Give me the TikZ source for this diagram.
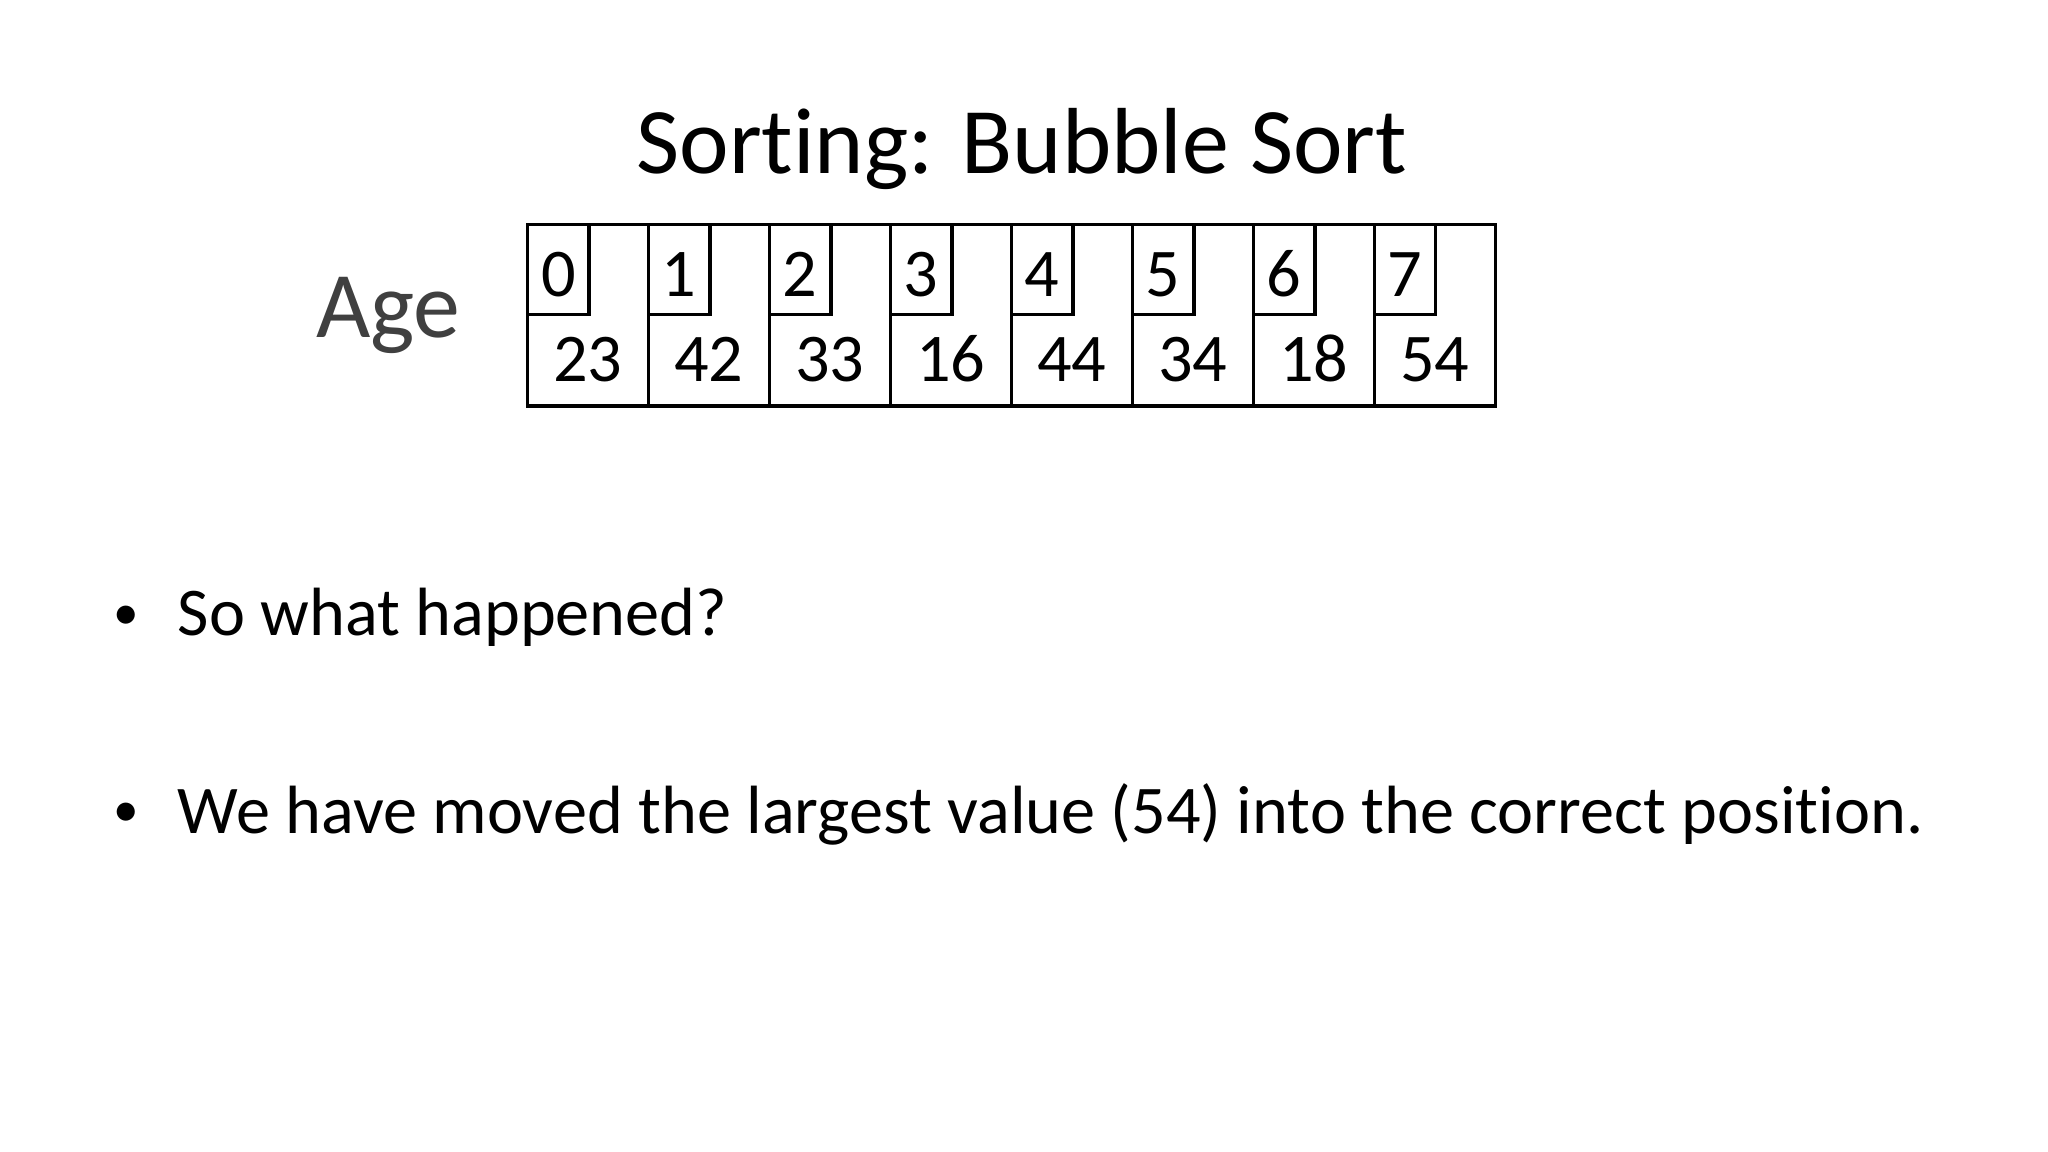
\documentclass[tikz,border=0pt]{standalone}
\usepackage{fontspec}
\setmainfont{Carlito}[Ligatures=NoCommon]
\usepackage{tikz}
\definecolor{agegray}{RGB}{64,64,64}

\begin{document}
\begin{tikzpicture}[x=1pt, y=-1pt, line width=1.6pt]
		\tikzstyle{every node}=[inner sep=0pt]
		\tikzstyle{digit}=[anchor=base, font=\fontsize{32}{38}\selectfont]
		\tikzstyle{bullettext}=[anchor=base west, font=\fontsize{32}{38}\selectfont]
		\tikzstyle{bulletdot}=[anchor=base, font=\fontsize{24}{29}\selectfont]
		\useasboundingbox (0,0) rectangle (960,540);
		\node[anchor=base, font=\fontsize{44}{53}\selectfont] (title) at (479,81.4) {Sorting: Bubble Sort};
		\node[anchor=base, font=\fontsize{44}{53}\selectfont, text=agegray] (age) at (182,158) {Age};
		% array of ages
		\draw[]  (247.3,105.3) rectangle (701,190.4) ;
		\draw[]  (304,105.3) -- (304,190.4) ;
		\draw[]  (360.7,105.3) -- (360.7,190.4) ;
		\draw[]  (417.4,105.3) -- (417.4,190.4) ;
		\draw[]  (474.1,105.3) -- (474.1,190.4) ;
		\draw[]  (530.8,105.3) -- (530.8,190.4) ;
		\draw[]  (587.5,105.3) -- (587.5,190.4) ;
		\draw[]  (644.2,105.3) -- (644.2,190.4) ;
		% index boxes
		\draw[] (247.3,105.3) rectangle (276.1,147.5);
		\draw[] (304,105.3) rectangle (332.8,147.5);
		\draw[] (360.7,105.3) rectangle (389.5,147.5);
		\draw[] (417.4,105.3) rectangle (446.2,147.5);
		\draw[] (474.1,105.3) rectangle (502.9,147.5);
		\draw[] (530.8,105.3) rectangle (559.6,147.5);
		\draw[] (587.5,105.3) rectangle (616.3,147.5);
		\draw[] (644.2,105.3) rectangle (673,147.5);
		\node[digit] (i0) at (261.7,139) {0};
		\node[digit] (i1) at (318.4,139) {1};
		\node[digit] (i2) at (375.1,139) {2};
		\node[digit] (i3) at (431.8,139) {3};
		\node[digit] (i4) at (488.5,139) {4};
		\node[digit] (i5) at (545.2,139) {5};
		\node[digit] (i6) at (601.9,139) {6};
		\node[digit] (i7) at (658.6,139) {7};
		\node[digit] (v0) at (275.6,178.8) {23};
		\node[digit] (v1) at (332.3,178.8) {42};
		\node[digit] (v2) at (389,178.8) {33};
		\node[digit] (v3) at (445.7,178.8) {16};
		\node[digit] (v4) at (502.4,178.8) {44};
		\node[digit] (v5) at (559.1,178.8) {34};
		\node[digit] (v6) at (615.8,178.8) {18};
		\node[digit] (v7) at (672.5,178.8) {54};
		% bullets
		\node[bulletdot] (dot1) at (59.4,295) {•};
		\node[bullettext] (line1) at (82.6,298) {So what happened?};
		\node[bulletdot] (dot2) at (59.4,387.6) {•};
		\node[bullettext] (line2) at (82.6,390.6) {We have moved the largest value (54) into the correct position.};
	\end{tikzpicture}
\end{document}
